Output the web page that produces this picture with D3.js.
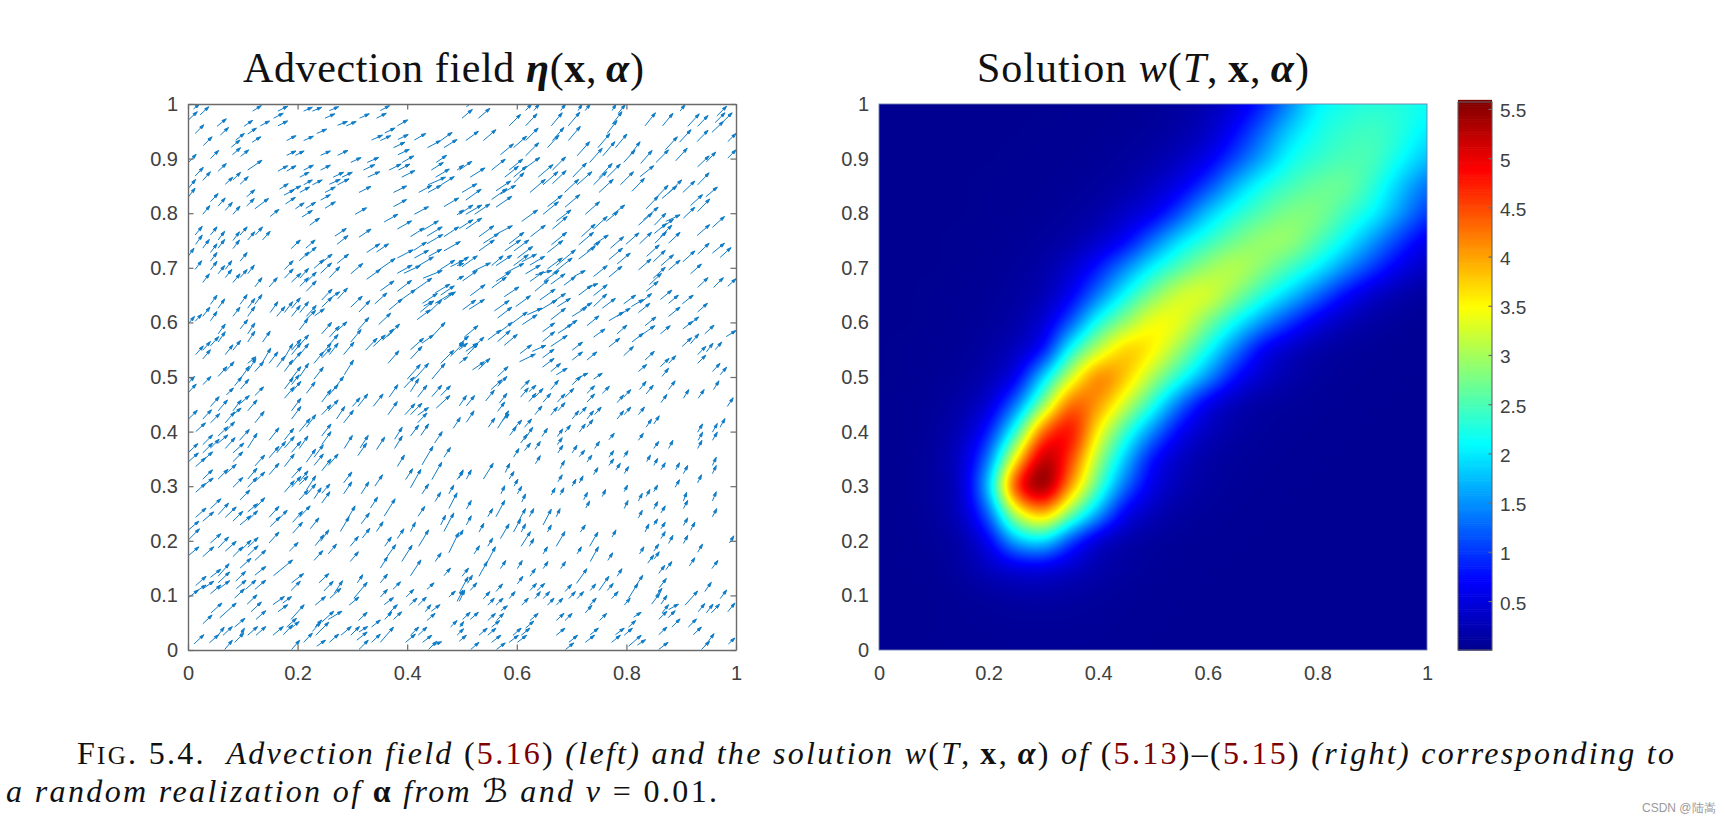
<!DOCTYPE html>
<html>
<head>
<meta charset="utf-8">
<script src="https://cdn.jsdelivr.net/npm/d3@7"></script>
<style>
  html, body { margin: 0; background: #fff; }
  text { font-family: "Liberation Sans", Arial, sans-serif; }
  .tex text, text.tex { font-family: "Liberation Serif", "Times New Roman", serif; fill: #111; }
</style>
</head>
<body>
<svg id="fig" width="1725" height="824"></svg>
<script>
// arrows: [x, y, u, v] tail and displacement, in thousandths of an axis unit
const arrowsUpperLeft = [
[10,991,11,9],[1,971,16,15],[22,980,16,15],[118,987,16,10],[164,987,18,9],[211,987,16,7],[227,987,17,7],[258,988,17,7],[156,974,18,9],[164,960,18,9],[132,960,17,9],[102,959,16,11],[53,959,17,14],[13,946,16,16],[59,943,15,14],[109,945,16,11],[87,934,16,12],[117,930,16,10],[79,921,16,13],[28,924,16,16],[81,907,15,13],[96,904,15,12],[41,900,15,15],[1,893,14,15],[109,879,26,18],[55,877,15,14],[13,868,15,16],[27,860,14,16],[68,853,14,13],[82,861,14,14],[95,853,15,14],[1,846,13,16],[1,830,12,16],[41,821,14,15],[107,830,15,13],[55,813,13,15],[107,813,14,14],[68,805,13,15],[122,808,25,19],[27,798,13,16],[82,798,13,15],[150,794,16,13],
[180,933,17,9],[211,933,18,8],[235,946,18,8],[273,961,18,7],[289,960,18,8],[250,974,18,8],[313,974,18,8],[344,974,18,9],[351,988,17,9],[382,960,19,11],[359,947,19,9],[383,935,19,9],[335,934,20,9],[351,933,19,9],[413,934,21,12],[375,920,21,10],[383,907,21,10],[437,920,24,13],[461,933,21,15],[467,920,24,15],[180,906,17,8],[196,906,16,8],[242,906,18,8],[273,906,19,9],[297,893,19,9],[327,893,21,9],[320,879,21,10],[367,879,22,11],[384,879,21,11],[391,893,21,12],[453,893,19,13],[164,877,18,10],[180,877,17,10],[211,879,18,9],[242,879,18,9],[204,866,17,9],[265,866,19,9],[281,866,19,9],[211,852,16,9],[227,852,18,9],[258,853,20,9],[273,852,21,11],[328,866,22,10],[390,866,24,12],[444,879,22,14],[452,866,25,15],[491,879,12,9],[421,838,24,13],[438,852,32,14],[438,838,24,13],[462,852,24,15],[167,844,16,10],[175,833,19,10],[188,841,18,9],[204,838,18,10],[250,838,19,10],[312,838,22,11],[375,838,24,12],[178,817,18,12],[242,824,18,10],[196,808,16,11],[215,809,18,11],[250,809,19,12],[375,812,24,13],[305,798,21,12],[467,812,27,16],[413,798,26,14],[208,793,19,12],[358,784,25,14],[491,797,12,9],[222,778,18,13],[382,771,26,15],
[13,760,13,16],[41,760,12,15],[14,743,12,17],[55,751,12,16],[82,750,12,16],[95,760,13,15],[109,751,13,15],[123,760,13,15],[136,751,14,16],[27,736,12,16],[41,728,12,16],[55,736,12,16],[82,735,12,16],[1,722,10,14],[41,712,12,16],[95,712,13,16],[13,697,12,16],[41,696,12,16],[55,689,12,15],[68,697,12,16],[27,673,12,16],[68,682,12,15],[82,673,13,16],[95,682,13,15],[109,689,12,16],[122,665,13,17],[148,665,15,17],[188,735,17,16],[215,736,17,15],[203,713,18,16],[215,721,19,17],[176,697,16,16],[230,699,18,16],[242,708,21,17],[176,681,16,17],[242,690,20,19],[272,708,21,17],[189,674,17,16],[204,681,16,18],[204,666,16,16],[215,673,19,19],[258,682,19,20],[297,689,22,19],[216,657,18,19],[268,758,21,14],[272,743,20,16],[312,756,22,15],[326,728,24,16],[344,729,22,15],[406,757,25,16],[429,769,28,17],[436,758,28,17],[467,757,27,18],[382,718,29,15],[412,732,23,15],[326,679,25,18],[348,696,30,21],[436,744,29,17],[467,731,30,17],[413,718,26,14],[439,721,24,13],[421,704,27,16],[382,690,27,15],[459,696,28,18],[394,690,30,14],[429,681,35,14],[479,702,24,12],[491,704,12,4],[351,658,25,18],[382,657,26,20],[367,623,24,20],[391,643,24,17],[415,660,30,21],[428,635,27,18],[451,654,27,16],[461,650,25,17],[467,641,21,15],[491,678,12,7],
[41,633,12,17],[55,626,12,17],[95,633,13,18],[109,626,13,18],[122,633,13,18],[150,618,14,20],[162,611,15,18],[176,618,15,20],[189,626,16,19],[189,611,16,20],[204,618,16,20],[244,641,19,20],[258,643,19,13],[273,643,18,20],[244,628,19,18],[297,628,21,20],[312,619,20,21],[341,634,22,20],[1,598,11,13],[13,602,12,13],[27,611,13,17],[41,603,12,17],[82,611,13,17],[109,611,13,18],[216,611,18,20],[231,612,18,13],[203,586,16,21],[215,605,18,17],[348,596,22,21],[310,586,20,23],[418,605,24,18],[424,619,24,20],[430,630,18,9],[439,618,24,23],[451,635,33,20],[95,588,14,17],[55,579,13,18],[109,579,13,20],[244,579,18,21],[258,573,18,20],[272,585,18,16],[338,556,22,21],[324,549,21,22],[355,567,20,21],[364,574,22,23],[41,557,15,17],[55,564,13,19],[14,541,14,16],[27,549,14,16],[27,533,14,17],[68,541,14,18],[82,549,14,18],[109,564,13,20],[136,564,14,20],[297,564,19,23],[284,541,19,23],[244,541,17,21],[256,557,18,21],[189,549,17,20],[204,559,16,18],[176,535,15,26],[189,541,17,21],[204,541,16,20],[136,527,15,26],[109,525,15,12],[148,525,16,21],[162,518,15,20],[176,510,15,21],[189,525,17,21],[230,525,17,21],[244,535,17,18],[258,541,16,21],[365,525,20,23],[406,550,24,21],[406,533,21,23],[427,562,21,15],[448,577,21,23],[461,525,24,24],[479,538,24,24],[494,557,9,8],[55,501,16,18],[68,510,16,18],[95,496,17,24],[109,510,15,24],[122,510,16,18],[188,496,18,23],[204,501,16,24],[230,496,17,22],[285,504,17,27],[400,496,24,27],[413,496,26,29],[445,496,24,29]
];
const arrowsUpperRight = [
[500,974,19,16],[508,995,14,10],[530,974,21,18],[586,960,21,21],[616,960,21,22],[616,988,11,12],[631,988,10,12],[663,960,20,24],[680,988,9,12],[694,960,21,25],[712,988,7,12],[725,988,9,12],[774,988,7,12],[765,946,18,24],[774,963,18,23],[785,983,13,16],[834,960,19,24],[866,960,19,23],[898,987,9,12],[912,959,21,23],[930,959,19,20],[965,978,18,18],[962,966,18,18],[956,948,21,20],[974,965,19,19],[507,933,23,17],[539,933,23,20],[616,933,23,23],[656,920,21,23],[665,933,21,24],[694,933,22,26],[897,930,21,23],[929,931,20,21],[985,931,15,15],[570,907,24,20],[594,920,24,21],[616,905,24,24],[710,905,23,26],[748,920,22,26],[757,905,22,26],[780,920,21,25],[795,893,21,23],[807,907,18,24],[826,891,21,24],[854,893,23,23],[871,916,22,24],[890,896,21,23],[930,885,21,20],[946,894,17,18],[985,901,15,15],[733,893,23,26],
[495,879,23,16],[515,866,27,17],[554,879,25,20],[586,879,25,20],[578,866,25,20],[594,866,24,20],[610,879,32,23],[639,866,27,23],[665,879,24,24],[595,856,18,18],[624,838,28,24],[648,852,27,24],[665,854,25,24],[702,866,25,26],[710,852,27,24],[687,838,26,24],[740,852,24,24],[750,865,24,26],[765,866,24,24],[750,838,26,24],[789,852,24,24],[810,840,23,24],[825,867,25,20],[930,852,21,22],[903,838,22,21],[500,838,27,16],[507,824,28,20],[554,825,28,20],[562,841,27,18],[570,835,28,16],[562,811,29,20],[656,812,27,21],[648,798,28,23],[688,811,27,23],[495,798,25,17],[507,798,29,17],[523,798,28,19],[609,785,29,21],[725,798,26,23],[763,785,22,18],[774,797,23,18],[836,808,22,23],[853,827,23,24],[865,827,27,23],[877,837,24,24],[945,830,21,18],[917,814,22,20],[930,803,22,23],[904,791,21,20],
[495,772,25,16],[507,771,29,20],[672,785,27,21],[665,771,27,23],[740,771,25,23],[822,778,25,22],[831,788,27,23],[851,778,21,22],[872,785,26,12],[851,763,22,18],[862,772,24,17],[929,759,23,20],[957,774,22,20],[531,757,27,20],[539,745,28,18],[565,763,27,14],[531,731,28,20],[625,757,27,21],[718,757,25,23],[586,744,27,21],[578,731,29,20],[595,731,27,20],[663,742,28,23],[656,728,28,22],[713,742,27,23],[740,742,27,18],[713,716,30,23],[728,730,24,18],[771,736,24,21],[799,743,24,21],[824,744,22,21],[852,745,21,21],[862,757,21,21],[877,745,21,20],[930,725,21,20],[957,727,22,18],[971,719,20,18],[768,715,25,21],[783,707,24,20],[837,721,23,21],[849,711,22,21],[863,704,23,20],[903,711,22,20],
[495,708,17,12],[500,702,28,20],[501,676,27,19],[519,693,33,16],[554,704,21,18],[562,704,29,19],[601,718,28,21],[594,704,27,20],[616,689,27,16],[609,711,27,14],[624,705,27,16],[656,698,27,20],[665,689,36,29],[672,704,35,29],[562,675,27,18],[554,663,27,20],[578,690,35,18],[624,675,25,18],[634,687,30,8],[650,676,27,19],[633,657,25,21],[662,670,26,19],[686,668,21,16],[704,684,21,11],[740,684,25,20],[768,683,24,20],[822,696,23,20],[849,681,22,20],[877,696,21,18],[917,689,20,18],[930,664,19,18],[959,664,18,18],[985,666,15,14],[515,649,27,20],[577,647,27,18],[713,650,24,18],[728,663,20,8],[740,649,25,20],[836,657,22,18],[842,669,22,21],[642,641,28,20],[662,635,27,18],[598,629,27,20],[862,642,21,17],[877,635,18,15],[902,634,20,16],
[501,623,24,18],[513,624,28,18],[559,621,27,19],[565,608,26,20],[674,629,24,15],[643,623,30,18],[619,614,27,12],[662,605,27,21],[592,599,27,20],[610,596,27,18],[701,611,27,17],[716,623,21,13],[740,629,24,23],[756,626,24,18],[795,634,22,16],[809,629,22,13],[825,635,21,18],[768,603,27,16],[783,611,24,15],[822,618,21,17],[877,611,21,17],[930,619,18,16],[728,594,22,18],[675,580,26,17],[688,589,22,15],[647,583,22,16],[834,594,20,16],[547,568,24,18],[565,580,27,20],[903,588,18,14],[916,597,16,13],[783,579,18,16],[862,579,18,15],[822,573,30,21],[810,564,21,16],[982,574,18,11],[495,559,17,16],[504,573,25,21],[507,547,21,15],[565,565,23,20],[647,565,22,18],[740,573,21,15],[943,579,17,16],[662,556,30,20],[577,558,24,20],[768,555,20,16],[902,556,17,16],[917,561,15,18],[701,549,19,15],[606,543,21,16],[628,547,25,11],[647,535,21,16],[495,550,15,12],[510,541,19,20],[519,553,21,20],[795,539,18,17],[930,541,15,15],[946,546,12,16],[962,550,12,14],[605,528,29,14],[701,531,19,15],[728,531,18,15],[834,531,17,16],[862,519,16,15],[877,525,13,14],[930,525,15,15],[495,525,15,12],[519,513,22,15],[530,514,21,20],[822,510,15,13],[957,510,14,15],[971,504,12,14],[647,518,21,16],[662,510,18,15],[672,504,20,12],[565,501,19,18],[865,501,12,15],[707,496,23,11],[740,496,16,11]
];
const arrowsLowerLeft = [
[1,489,11,12],[1,472,14,15],[27,486,15,15],[85,484,13,16],[96,478,15,18],[176,478,16,21],[189,486,14,18],[189,472,17,20],[176,461,18,21],[216,470,16,21],[244,454,17,23],[264,475,20,26],[256,466,18,20],[41,446,16,18],[55,438,17,20],[70,467,13,13],[82,438,15,20],[96,452,16,14],[109,438,17,20],[122,466,16,16],[189,438,17,23],[256,438,18,20],[244,431,17,18],[338,446,18,23],[365,431,17,24],[300,446,14,16],[310,446,18,23],[271,423,15,23],[284,416,18,23],[367,463,16,23],[394,480,19,20],[406,473,15,24],[419,463,17,22],[445,464,18,21],[461,466,18,18],[453,443,25,23],[1,423,16,16],[27,423,16,17],[41,416,17,17],[68,416,17,20],[82,431,15,12],[122,416,17,21],[189,423,17,23],[203,400,20,24],[216,408,17,23],[396,431,18,20],[406,431,21,21],[419,430,20,14],[419,416,17,18],[406,392,15,20],[425,393,14,21],[484,406,13,20],
[14,400,18,16],[55,392,18,17],[68,400,17,18],[148,384,18,23],[94,384,18,20],[109,370,17,27],[176,385,17,21],[244,392,17,22],[377,386,14,22],[450,379,14,21],[1,362,17,16],[27,376,18,18],[27,361,18,18],[41,370,16,16],[55,379,18,15],[68,369,18,20],[82,361,20,18],[162,361,16,21],[148,352,18,21],[176,370,18,21],[189,362,17,20],[203,369,16,23],[244,376,17,24],[230,353,17,23],[216,344,17,24],[285,369,15,24],[314,370,15,23],[310,356,16,23],[344,367,15,23],[377,369,14,23],[1,345,18,16],[14,336,18,16],[27,347,18,16],[82,345,18,18],[122,337,18,20],[148,321,18,21],[176,336,18,23],[230,338,17,21],[244,328,17,22],[256,338,18,21],[382,336,13,21],[427,339,20,34],[467,353,12,18],[27,313,18,17],[68,322,20,18],[55,313,18,18],[109,313,17,20],[189,315,18,20],[203,303,16,15],[109,298,17,18],[122,308,18,18],[284,306,15,20],[341,300,14,21],[397,312,13,20],[406,297,19,34],[445,312,18,32],[491,312,11,16],[14,289,18,16],[27,300,19,15],[82,298,18,18],[95,275,18,18],[176,289,18,21],[189,298,17,20],[203,308,16,20],[203,275,16,18],[216,284,17,20],[216,293,17,26],[230,277,13,20],[244,269,15,21],[244,287,15,17],[284,286,15,22],[316,286,14,22],[427,286,12,18],[451,272,10,17],[476,286,9,16],[476,259,15,29],
[41,259,19,18],[55,248,19,21],[109,253,18,15],[122,259,18,20],[14,243,19,17],[27,236,20,17],[68,243,20,19],[82,236,18,18],[95,229,20,17],[109,237,18,18],[148,243,18,20],[150,226,18,18],[162,236,19,20],[191,234,18,20],[203,243,20,21],[333,260,13,20],[358,245,20,32],[291,240,14,24],[278,217,16,27],[316,231,15,20],[420,245,12,18],[461,229,9,18],[467,217,18,34],[1,220,19,16],[1,202,20,20],[191,214,18,20],[223,222,16,20],[344,217,12,18],[318,205,14,18],[382,204,12,18],[406,217,9,17],[421,190,18,30],[148,196,18,20],[41,196,19,17],[55,187,19,20],[1,173,19,16],[27,171,20,18],[68,181,20,18],[82,171,18,18],[95,181,20,20],[109,188,19,18],[109,173,19,18],[122,164,20,19],[185,181,16,16],[232,191,16,20],[242,199,15,21],[256,176,15,18],[296,190,15,18],[359,190,12,17],[230,164,16,18],[296,162,15,18],[351,150,13,21],[364,172,15,21],[390,162,19,30],[451,162,11,16],[476,178,18,37],
[95,150,20,18],[122,137,20,16],[55,135,20,23],[41,133,19,15],[156,136,35,29],[406,136,19,29],[467,136,12,14],[14,118,19,17],[55,123,21,20],[1,96,18,14],[14,107,19,12],[27,112,20,14],[41,103,19,16],[55,111,21,16],[87,126,18,18],[88,112,18,16],[85,95,18,17],[105,111,19,17],[122,111,20,17],[189,123,22,17],[188,109,17,17],[239,123,18,17],[248,108,17,18],[259,95,20,18],[267,104,15,23],[309,123,10,15],[351,123,13,16],[303,95,24,29],[351,97,13,14],[374,111,14,14],[436,111,13,12],[398,97,14,14],[476,97,12,11],[491,89,11,21],[108,84,18,17],[155,83,21,15],[173,86,16,12],[164,70,18,13],[115,70,19,18],[232,82,19,16],[294,82,18,15],[358,83,17,13],[404,82,14,13],[420,82,15,15],[42,68,20,18],[58,59,30,27],[124,56,18,16],[188,56,24,27],[180,42,18,16],[367,68,15,15],[444,71,16,12],[433,70,10,13],[27,48,17,16],[232,42,12,13],[244,51,22,20],[256,56,25,15],[311,54,16,15],[359,56,13,14],[375,56,15,14],[436,54,15,13],[479,42,12,12],[496,42,7,10],[55,27,11,15],[64,27,17,16],[85,42,19,16],[109,27,18,16],[124,27,18,16],[95,27,8,13],[155,27,19,16],[174,28,17,18],[188,40,15,12],[227,34,15,17],[233,27,24,24],[279,27,19,16],[297,27,16,16],[312,33,16,10],[335,42,16,13],[406,27,15,15],[420,27,16,15],[491,27,12,12],[11,11,18,17],[39,13,17,15],[85,14,17,17],[211,14,16,17],[235,7,16,11],[258,14,17,15],[308,18,19,15],[335,14,16,15],[351,14,24,28],[397,14,18,15],[428,14,17,13],[439,1,15,15],[67,1,14,17],[189,1,15,17],[312,1,17,17],[445,8,18,7]
];
const arrowsLowerRight = [
[495,447,13,19],[508,447,15,19],[508,417,14,21],[543,456,16,20],[553,477,20,18],[565,483,17,18],[568,452,14,18],[565,437,13,17],[565,406,20,32],[573,419,13,13],[548,408,12,17],[607,478,16,16],[607,463,14,17],[622,473,13,12],[622,455,13,15],[633,463,15,16],[648,454,14,16],[662,477,14,17],[674,454,14,15],[688,463,16,16],[701,486,16,15],[728,470,14,14],[728,454,14,15],[756,470,13,13],[783,453,12,14],[795,463,13,14],[824,477,12,15],[836,469,13,16],[863,453,11,15],[877,477,12,16],[904,461,10,16],[931,461,11,16],[959,477,10,16],[984,446,11,16],[633,431,13,16],[662,430,12,15],[675,438,13,15],[701,423,12,15],[714,431,13,14],[728,423,12,15],[742,431,12,14],[783,423,12,15],[796,431,12,14],[822,431,11,14],[836,408,10,15],[850,414,10,15],[728,408,11,14],[714,399,11,15],[688,399,10,13],[674,391,10,14],[646,391,10,15],[614,408,13,15],[587,393,12,16],[595,406,14,15],[607,379,12,16],[614,385,15,23],
[594,353,10,16],[614,365,11,14],[633,367,10,15],[674,376,9,13],[675,361,9,14],[701,361,9,14],[742,369,9,13],[768,385,10,12],[822,384,9,13],[850,369,9,13],[877,369,8,15],[930,369,8,15],[931,384,8,15],[930,399,9,15],[957,384,9,15],[957,399,9,16],[971,408,9,16],[634,341,9,15],[714,354,10,12],[728,344,9,13],[768,353,9,12],[795,353,8,12],[837,345,7,12],[850,338,7,13],[863,330,8,13],[890,330,7,13],[904,323,8,15],[957,338,7,15],[957,323,7,15],[768,338,9,12],[781,330,8,12],[796,323,8,13],[679,332,8,15],[495,315,7,15],[508,313,9,17],[539,313,18,29],[579,325,8,17],[586,313,9,14],[595,300,7,13],[601,286,8,14],[571,286,7,15],[609,271,7,15],[740,321,8,13],[675,308,8,13],[701,300,7,13],[714,306,7,13],[889,298,8,14],[930,306,7,15],[663,284,7,13],[679,284,7,13],[756,281,6,13],[796,290,6,12],[836,281,7,13],[850,290,7,12],[822,273,7,14],[904,273,6,16],[957,273,7,17],[722,275,7,14],[726,260,7,13],[508,258,9,16],[796,259,7,15],[850,258,7,14],[863,251,8,13],[904,259,8,15],
[562,244,16,30],[547,244,9,15],[957,244,8,15],[822,242,7,14],[508,229,9,17],[594,216,13,24],[603,236,13,23],[623,244,8,15],[648,229,15,29],[672,244,7,15],[531,216,9,16],[608,216,8,15],[656,216,7,13],[570,204,16,27],[716,216,9,13],[834,216,7,15],[850,229,7,11],[863,222,8,12],[904,228,8,14],[917,219,8,15],[495,208,7,12],[774,207,7,13],[863,204,8,13],[877,195,8,15],[904,195,8,15],[988,196,8,13],[608,190,17,27],[623,190,8,14],[672,190,16,27],[733,190,15,26],[547,190,9,15],[522,176,10,15],[648,176,8,13],[710,176,8,13],[850,181,9,13],[930,179,9,15],[734,162,15,27],[824,176,8,13],[766,164,9,14],[839,159,11,15],[851,167,9,13],[531,135,15,27],[545,159,16,30],[570,149,10,15],[601,149,9,15],[648,149,9,13],[680,149,9,13],[915,154,10,15],[956,149,11,15],
[500,135,12,15],[624,135,10,14],[783,135,9,14],[859,140,11,15],[872,147,11,15],[709,122,19,27],[601,121,10,14],[510,122,9,15],[495,104,16,30],[515,109,12,14],[562,107,12,14],[624,109,12,13],[637,109,14,13],[688,107,12,13],[734,109,10,12],[750,109,18,26],[765,109,11,13],[815,114,15,23],[804,95,17,27],[860,114,13,17],[943,107,12,17],[495,89,10,21],[539,94,12,13],[586,94,11,13],[633,94,10,13],[648,94,12,13],[695,94,12,13],[710,94,12,13],[773,94,12,13],[853,98,12,15],[846,84,15,20],[863,84,11,16],[907,82,23,26],[971,94,12,16],[547,82,12,13],[562,82,13,13],[609,82,12,13],[656,82,12,13],[672,82,12,13],[733,82,12,13],[796,82,11,13],[571,72,12,9],[725,68,12,14],[865,68,12,15],[877,74,18,10],[931,70,12,15],[946,68,12,16],[955,68,15,16],[985,70,13,16],[501,56,14,13],[515,56,15,13],[547,54,14,13],[563,54,13,13],[624,54,15,13],[672,54,14,13],[688,54,13,13],[751,54,13,13],[813,60,14,9],[859,56,15,15],[876,59,13,13],[554,42,15,12],[616,40,15,13],[804,42,13,12],[913,42,15,15],[883,42,15,15],[531,27,15,13],[547,27,15,13],[593,27,15,13],[608,27,16,13],[672,27,16,13],[734,28,15,12],[780,28,16,12],[796,27,15,13],[859,28,15,14],[922,28,15,14],[495,16,13,11],[554,14,17,13],[586,14,17,13],[601,14,17,13],[695,14,16,13],[725,14,17,13],[773,14,16,13],[804,7,23,20],[820,9,15,10],[943,7,17,23],[986,11,12,11],[516,1,15,13],[563,1,16,12],[689,1,15,12],[859,1,17,13],[937,1,15,15]
];

// solution w, rows y = 0, 0.05, ... 1; columns x = 0, 0.05, ... 1
const solutionRows = [
[.02,.02,.03,.03,.04,.04,.04,.04,.04,.03,.03,.03,.02,.02,.02,.02,.02,.02,.02,.02,.02],
[.02,.02,.03,.04,.05,.06,.06,.06,.05,.04,.03,.03,.02,.02,.02,.02,.02,.02,.02,.02,.02],
[.02,.02,.03,.05,.09,.13,.14,.11,.08,.05,.04,.03,.03,.02,.02,.02,.02,.02,.02,.02,.02],
[.02,.03,.04,.12,.3,.46,.48,.33,.18,.1,.06,.04,.03,.03,.02,.02,.02,.02,.02,.02,.02],
[.02,.03,.06,.15,.6,1.7,1.95,1.0,.35,.15,.08,.05,.04,.03,.03,.02,.02,.02,.02,.02,.02],
[.02,.04,.09,.3,1.2,3.25,4.05,2.75,1.6,.55,.25,.1,.06,.04,.03,.03,.02,.02,.02,.02,.02],
[.02,.04,.1,.32,1.75,4.85,5.75,4.05,2.5,1.25,.5,.22,.1,.06,.04,.03,.03,.02,.02,.02,.02],
[.02,.04,.1,.35,1.3,3.6,5.45,4.6,2.95,1.75,.7,.3,.13,.07,.05,.04,.03,.03,.02,.02,.02],
[.02,.03,.08,.25,.8,2.3,4.45,5.0,3.5,2.35,1.4,.6,.28,.13,.07,.05,.04,.03,.03,.02,.02],
[.02,.03,.06,.15,.4,1.3,2.85,4.45,4.1,3.2,2.25,1.25,.5,.22,.1,.07,.05,.04,.03,.03,.02],
[.01,.02,.04,.08,.2,.55,1.85,3.25,4.3,3.85,3.0,2.25,1.5,.72,.35,.17,.08,.05,.04,.03,.03],
[.01,.02,.03,.05,.12,.28,.7,2.2,3.15,3.85,3.6,2.9,2.15,1.35,.6,.3,.14,.07,.05,.04,.03],
[.01,.01,.02,.04,.07,.15,.4,1.15,2.25,2.9,3.5,3.4,2.75,2.1,1.5,.95,.5,.25,.12,.06,.04],
[.01,.01,.02,.03,.05,.1,.22,.6,1.35,2.15,2.8,3.3,3.35,2.85,2.3,1.8,1.25,.7,.35,.17,.08],
[.01,.01,.01,.02,.04,.07,.15,.38,.8,1.45,2.1,2.55,2.95,3.15,2.85,2.45,2.05,1.5,1.0,.55,.3],
[.01,.01,.01,.02,.03,.05,.08,.15,.35,.65,1.3,1.95,2.35,2.7,2.95,2.95,2.55,2.1,1.55,1.0,.55],
[.01,.01,.01,.01,.02,.03,.05,.08,.15,.35,.55,1.1,1.8,2.25,2.55,2.8,2.8,2.45,2.1,1.55,1.0],
[.01,.01,.01,.01,.02,.02,.03,.05,.08,.15,.32,.55,1.05,1.7,2.2,2.45,2.65,2.7,2.35,1.8,1.3],
[.01,.01,.01,.01,.01,.02,.02,.03,.05,.08,.15,.3,.55,1.05,1.6,2.15,2.35,2.5,2.5,2.15,1.75],
[.01,.01,.01,.01,.01,.01,.02,.02,.03,.05,.08,.15,.32,.7,1.25,1.85,2.2,2.37,2.45,2.3,2.0],
[.01,.01,.01,.01,.01,.01,.01,.02,.02,.03,.05,.1,.22,.45,.85,1.45,2.05,2.2,2.3,2.27,2.15]
];

const xTicks = [0, 0.2, 0.4, 0.6, 0.8, 1];
const yTicks = [0, 0.1, 0.2, 0.3, 0.4, 0.5, 0.6, 0.7, 0.8, 0.9, 1];
const barTicks = [0.5, 1, 1.5, 2, 2.5, 3, 3.5, 4, 4.5, 5, 5.5];
const barRange = [0.003, 5.57];
const jetStops = [0, 0.125, 0.375, 0.625, 0.875, 1];
const jetColors = ['#00008f', '#0000ff', '#00ffff', '#ffff00', '#ff0000', '#800000'];

const svg = d3.select('#fig');
const tickFmt = d3.format('~g');

const xLeft = d3.scaleLinear().domain([0, 1]).range([188, 736]);
const xRight = d3.scaleLinear().domain([0, 1]).range([879, 1427]);
const yPlot = d3.scaleLinear().domain([0, 1]).range([650, 104]);
const yBar = d3.scaleLinear().domain(barRange).range([650, 102]);

const jet = d3.scaleLinear()
  .domain(jetStops.map(t => barRange[0] + t * (barRange[1] - barRange[0])))
  .range(jetColors)
  .clamp(true);

function styleAxis(g, labels) {
  g.selectAll('path').attr('stroke', '#6a6a6a').attr('stroke-width', 1.4);
  g.selectAll('line').attr('stroke', '#6a6a6a').attr('stroke-width', 1.2);
  g.selectAll('text').attr('fill', '#404040').attr('font-size', 20).attr('font-family', 'Liberation Sans');
  if (!labels) g.selectAll('text').remove();
}

// ---- left panel: arrows
svg.append('clipPath').attr('id', 'leftClip').append('rect')
  .attr('x', 188).attr('y', 104).attr('width', 548).attr('height', 546);

const arrows = [...arrowsUpperLeft, ...arrowsUpperRight, ...arrowsLowerLeft, ...arrowsLowerRight];

function arrowPath(d) {
  const x0 = xLeft(d[0] / 1000), y0 = yPlot(d[1] / 1000);
  const x1 = xLeft((d[0] + d[2]) / 1000), y1 = yPlot((d[1] + d[3]) / 1000);
  const len = Math.hypot(x1 - x0, y1 - y0);
  const ux = (x1 - x0) / len, uy = (y1 - y0) / len;
  const hl = 4.5, hw = 1.4;
  const bx = x1 - ux * hl, by = y1 - uy * hl;
  return `M${x0},${y0}L${bx},${by}M${x1},${y1}L${bx - uy * hw},${by + ux * hw}L${bx + uy * hw},${by - ux * hw}Z`;
}

svg.append('g').attr('clip-path', 'url(#leftClip)')
  .selectAll('path').data(arrows).join('path')
  .attr('d', arrowPath)
  .attr('fill', '#0f7cc6')
  .attr('stroke', '#0f7cc6')
  .attr('stroke-width', 1);

const leftBox = [
  { axis: d3.axisBottom(xLeft).tickValues(xTicks).tickFormat(tickFmt), at: [0, 650], labels: true, pad: 16 },
  { axis: d3.axisLeft(yPlot).tickValues(yTicks).tickFormat(tickFmt), at: [188, 0], labels: true, pad: 10 },
  { axis: d3.axisTop(xLeft).tickValues(xTicks), at: [0, 104], labels: false, pad: 4 },
  { axis: d3.axisRight(yPlot).tickValues(yTicks), at: [736, 0], labels: false, pad: 4 }
];
leftBox.forEach(b => {
  b.axis.tickSizeInner(-5.5).tickSizeOuter(0).tickPadding(b.pad);
  svg.append('g').attr('transform', `translate(${b.at})`).call(b.axis).call(g => styleAxis(g, b.labels));
});

// ---- right panel: smooth shading of the read grid, like MATLAB interp shading
function blendWeights(t) {
  const t2 = t * t, t3 = t2 * t;
  const cr = [(-t3 + 2 * t2 - t) / 2, (3 * t3 - 5 * t2 + 2) / 2, (-3 * t3 + 4 * t2 + t) / 2, (t3 - t2) / 2];
  const bs = [(1 - 3 * t + 3 * t2 - t3) / 6, (4 - 6 * t2 + 3 * t3) / 6, (1 + 3 * t + 3 * t2 - 3 * t3) / 6, t3 / 6];
  return cr.map((c, i) => 0.4 * c + 0.6 * bs[i]);
}
function sampleGrid(fx, fy) {
  const nx = solutionRows[0].length - 1, ny = solutionRows.length - 1;
  const gx = fx * nx, gy = fy * ny;
  const ix = Math.min(Math.floor(gx), nx - 1), iy = Math.min(Math.floor(gy), ny - 1);
  const wx = blendWeights(gx - ix), wy = blendWeights(gy - iy);
  let v = 0;
  for (let r = 0; r < 4; r++) {
    const row = solutionRows[Math.max(0, Math.min(ny, iy + r - 1))];
    for (let c = 0; c < 4; c++) {
      v += wy[r] * wx[c] * row[Math.max(0, Math.min(nx, ix + c - 1))];
    }
  }
  return Math.max(0, v);
}

const canvas = document.createElement('canvas');
canvas.width = 548;
canvas.height = 546;
const ctx = canvas.getContext('2d');
for (let py = 0; py < canvas.height; py++) {
  for (let px = 0; px < canvas.width; px++) {
    ctx.fillStyle = jet(sampleGrid(xRight.invert(879 + px + 0.5), yPlot.invert(104 + py + 0.5)));
    ctx.fillRect(px, py, 1, 1);
  }
}
svg.append('image')
  .attr('x', xRight(0)).attr('y', yPlot(1))
  .attr('width', 548).attr('height', 546)
  .attr('href', canvas.toDataURL());

svg.append('rect')
  .attr('x', xRight(0)).attr('y', yPlot(1)).attr('width', 548).attr('height', 546)
  .attr('fill', 'none').attr('stroke', '#6f7fb0').attr('stroke-width', 0.9);

svg.append('g').attr('transform', 'translate(0,650)')
  .call(d3.axisBottom(xRight).tickValues(xTicks).tickFormat(tickFmt).tickSize(0).tickPadding(16))
  .call(g => { styleAxis(g, true); g.select('path').remove(); });
svg.append('g').attr('transform', 'translate(879,0)')
  .call(d3.axisLeft(yPlot).tickValues(yTicks).tickFormat(tickFmt).tickSize(0).tickPadding(10))
  .call(g => { styleAxis(g, true); g.select('path').remove(); });

// ---- colorbar
const barLevels = d3.range(0, 256).map(i => barRange[0] + (i / 255) * (barRange[1] - barRange[0]));
const barStep = (barRange[1] - barRange[0]) / 255;
svg.append('g').selectAll('rect').data(barLevels).join('rect')
  .attr('x', 1458).attr('width', 34)
  .attr('y', d => yBar(d + barStep))
  .attr('height', d => yBar(d) - yBar(d + barStep) + 0.6)
  .attr('fill', d => jet(d));
svg.append('rect').attr('x', 1458).attr('y', 102).attr('width', 34).attr('height', 548)
  .attr('fill', 'none').attr('stroke', '#5f5f5f').attr('stroke-width', 1.1);
svg.append('g').attr('transform', 'translate(1492,0)')
  .call(d3.axisRight(yBar).tickValues(barTicks).tickFormat(tickFmt).tickSizeInner(-3.5).tickSizeOuter(0).tickPadding(8))
  .call(g => { styleAxis(g, true); g.select('path').remove(); g.selectAll('text').attr('font-size', 19).attr('dy', '0.42em'); });

// ---- titles and caption
function texLine(x, y, size, width, parts) {
  const t = svg.append('text').attr('class', 'tex').attr('x', x).attr('y', y)
    .attr('font-size', size).attr('xml:space', 'preserve')
    .attr('textLength', width).attr('lengthAdjust', 'spacing');
  parts.forEach(p => {
    const s = t.append('tspan').text(p.t);
    if (p.i) s.attr('font-style', 'italic');
    if (p.b) s.attr('font-weight', 'bold');
    if (p.c) s.attr('fill', p.c);
    if (p.s) s.attr('font-size', p.s);
    if (p.f) s.attr('font-family', p.f);
  });
}

const thin = ',\u2009';
texLine(243, 82, 42, 401, [
  { t: 'Advection field ' }, { t: 'η', i: 1, b: 1 }, { t: '(' }, { t: 'x', b: 1 }, { t: thin }, { t: 'α', i: 1, b: 1 }, { t: ')' }
]);
texLine(977, 82, 42, 332, [
  { t: 'Solution ' }, { t: 'w', i: 1 }, { t: '(' }, { t: 'T', i: 1 }, { t: thin }, { t: 'x', b: 1 }, { t: thin }, { t: 'α', i: 1, b: 1 }, { t: ')' }
]);

const darkRed = '#800000';
texLine(77, 764, 32, 1597, [
  { t: 'F' }, { t: 'IG', s: 25 }, { t: '. 5.4.  ' },
  { t: 'Advection field', i: 1 }, { t: ' (' }, { t: '5.16', c: darkRed }, { t: ') ' },
  { t: '(left) and the solution ', i: 1 }, { t: 'w', i: 1 }, { t: '(' }, { t: 'T', i: 1 }, { t: thin },
  { t: 'x', b: 1 }, { t: thin }, { t: 'α', i: 1, b: 1 }, { t: ') ' }, { t: 'of', i: 1 }, { t: ' (' },
  { t: '5.13', c: darkRed }, { t: ')–(' }, { t: '5.15', c: darkRed }, { t: ') ' },
  { t: '(right) corresponding to', i: 1 }
]);
texLine(6, 802, 32, 711, [
  { t: 'a random realization of ', i: 1 }, { t: 'α', b: 1 }, { t: ' from ', i: 1 },
  { t: 'ℬ', f: 'DejaVu Sans' }, { t: ' and ', i: 1 }, { t: 'ν', i: 1 }, { t: ' = 0.01.' }
]);

svg.append('text').attr('x', 1642).attr('y', 812)
  .attr('font-size', 12).attr('fill', '#9a9a9a')
  .attr('font-family', 'Liberation Sans, Noto Sans CJK SC')
  .text('CSDN @陆嵩');
</script>
</body>
</html>
